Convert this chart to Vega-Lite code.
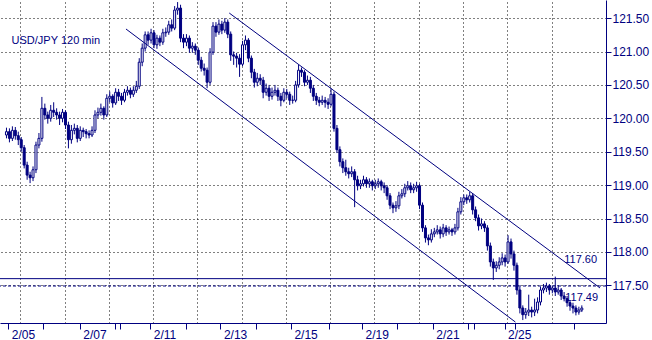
{
  "$schema": "https://vega.github.io/schema/vega-lite/v6.json",
  "width": 606,
  "height": 323,
  "autosize": {"type": "none"},
  "padding": {"left": 0, "top": 0, "right": 46, "bottom": 17},
  "background": "white",
  "config": {
    "view": {"stroke": null},
    "font": "Liberation Sans",
    "axis": {"labelFont": "Liberation Sans"}
  },
  "datasets": {
    "bars": [
      {"i":0,"o":119.75,"h":119.86,"l":119.70,"c":119.80},
      {"i":1,"o":119.80,"h":119.85,"l":119.64,"c":119.70},
      {"i":2,"o":119.70,"h":119.88,"l":119.66,"c":119.82},
      {"i":3,"o":119.82,"h":119.87,"l":119.68,"c":119.74},
      {"i":4,"o":119.74,"h":119.80,"l":119.60,"c":119.68},
      {"i":5,"o":119.68,"h":119.72,"l":119.50,"c":119.56},
      {"i":6,"o":119.56,"h":119.60,"l":119.25,"c":119.30},
      {"i":7,"o":119.30,"h":119.35,"l":119.08,"c":119.15},
      {"i":8,"o":119.15,"h":119.20,"l":119.03,"c":119.11},
      {"i":9,"o":119.11,"h":119.28,"l":119.06,"c":119.23},
      {"i":10,"o":119.23,"h":119.65,"l":119.18,"c":119.60},
      {"i":11,"o":119.60,"h":119.78,"l":119.55,"c":119.70},
      {"i":12,"o":119.70,"h":120.32,"l":119.65,"c":120.15},
      {"i":13,"o":120.15,"h":120.22,"l":119.98,"c":120.05},
      {"i":14,"o":120.05,"h":120.10,"l":119.92,"c":120.00},
      {"i":15,"o":120.00,"h":120.20,"l":119.95,"c":120.12},
      {"i":16,"o":120.12,"h":120.24,"l":120.02,"c":120.09},
      {"i":17,"o":120.09,"h":120.15,"l":119.98,"c":120.05},
      {"i":18,"o":120.05,"h":120.10,"l":119.90,"c":120.00},
      {"i":19,"o":120.00,"h":120.14,"l":119.94,"c":120.09},
      {"i":20,"o":120.09,"h":120.12,"l":119.84,"c":119.90},
      {"i":21,"o":119.90,"h":119.95,"l":119.55,"c":119.68},
      {"i":22,"o":119.68,"h":119.90,"l":119.62,"c":119.82},
      {"i":23,"o":119.82,"h":119.92,"l":119.76,"c":119.85},
      {"i":24,"o":119.85,"h":119.90,"l":119.64,"c":119.70},
      {"i":25,"o":119.70,"h":119.88,"l":119.66,"c":119.82},
      {"i":26,"o":119.82,"h":119.86,"l":119.72,"c":119.80},
      {"i":27,"o":119.80,"h":119.84,"l":119.70,"c":119.77},
      {"i":28,"o":119.77,"h":119.82,"l":119.70,"c":119.75},
      {"i":29,"o":119.75,"h":119.88,"l":119.72,"c":119.82},
      {"i":30,"o":119.82,"h":120.12,"l":119.78,"c":120.05},
      {"i":31,"o":120.05,"h":120.16,"l":120.00,"c":120.09},
      {"i":32,"o":120.09,"h":120.22,"l":120.04,"c":120.15},
      {"i":33,"o":120.15,"h":120.18,"l":119.98,"c":120.05},
      {"i":34,"o":120.05,"h":120.36,"l":120.02,"c":120.30},
      {"i":35,"o":120.30,"h":120.40,"l":120.24,"c":120.33},
      {"i":36,"o":120.33,"h":120.36,"l":120.16,"c":120.23},
      {"i":37,"o":120.23,"h":120.45,"l":120.20,"c":120.39},
      {"i":38,"o":120.39,"h":120.44,"l":120.26,"c":120.33},
      {"i":39,"o":120.33,"h":120.38,"l":120.20,"c":120.27},
      {"i":40,"o":120.27,"h":120.44,"l":120.24,"c":120.39},
      {"i":41,"o":120.39,"h":120.48,"l":120.34,"c":120.42},
      {"i":42,"o":120.42,"h":120.46,"l":120.30,"c":120.36},
      {"i":43,"o":120.36,"h":120.48,"l":120.32,"c":120.42},
      {"i":44,"o":120.42,"h":120.56,"l":120.38,"c":120.48},
      {"i":45,"o":120.48,"h":120.90,"l":120.44,"c":120.84},
      {"i":46,"o":120.84,"h":121.12,"l":120.78,"c":121.05},
      {"i":47,"o":121.05,"h":121.30,"l":121.00,"c":121.25},
      {"i":48,"o":121.25,"h":121.30,"l":121.10,"c":121.17},
      {"i":49,"o":121.17,"h":121.34,"l":121.12,"c":121.28},
      {"i":50,"o":121.28,"h":121.32,"l":121.05,"c":121.10},
      {"i":51,"o":121.10,"h":121.25,"l":121.04,"c":121.20},
      {"i":52,"o":121.20,"h":121.24,"l":121.08,"c":121.14},
      {"i":53,"o":121.14,"h":121.34,"l":121.10,"c":121.28},
      {"i":54,"o":121.28,"h":121.36,"l":121.22,"c":121.29},
      {"i":55,"o":121.29,"h":121.46,"l":121.25,"c":121.40},
      {"i":56,"o":121.40,"h":121.48,"l":121.30,"c":121.35},
      {"i":57,"o":121.35,"h":121.68,"l":121.32,"c":121.62},
      {"i":58,"o":121.62,"h":121.74,"l":121.55,"c":121.65},
      {"i":59,"o":121.65,"h":121.70,"l":121.14,"c":121.20},
      {"i":60,"o":121.20,"h":121.26,"l":121.05,"c":121.14},
      {"i":61,"o":121.14,"h":121.26,"l":121.08,"c":121.20},
      {"i":62,"o":121.20,"h":121.24,"l":120.98,"c":121.05},
      {"i":63,"o":121.05,"h":121.14,"l":120.98,"c":121.08},
      {"i":64,"o":121.08,"h":121.12,"l":120.95,"c":121.02},
      {"i":65,"o":121.02,"h":121.06,"l":120.80,"c":120.87},
      {"i":66,"o":120.87,"h":120.92,"l":120.70,"c":120.75},
      {"i":67,"o":120.75,"h":120.82,"l":120.64,"c":120.72},
      {"i":68,"o":120.72,"h":120.76,"l":120.45,"c":120.54},
      {"i":69,"o":120.54,"h":121.05,"l":120.50,"c":120.99},
      {"i":70,"o":120.99,"h":121.44,"l":120.95,"c":121.38},
      {"i":71,"o":121.38,"h":121.44,"l":121.22,"c":121.29},
      {"i":72,"o":121.29,"h":121.48,"l":121.25,"c":121.41},
      {"i":73,"o":121.41,"h":121.46,"l":121.26,"c":121.32},
      {"i":74,"o":121.32,"h":121.50,"l":121.28,"c":121.44},
      {"i":75,"o":121.44,"h":121.48,"l":121.20,"c":121.26},
      {"i":76,"o":121.26,"h":121.30,"l":120.86,"c":120.95},
      {"i":77,"o":120.95,"h":121.00,"l":120.80,"c":120.93},
      {"i":78,"o":120.93,"h":120.98,"l":120.76,"c":120.90},
      {"i":79,"o":120.90,"h":120.96,"l":120.62,"c":120.81},
      {"i":80,"o":120.81,"h":121.16,"l":120.78,"c":121.10},
      {"i":81,"o":121.10,"h":121.24,"l":121.02,"c":121.17},
      {"i":82,"o":121.17,"h":121.20,"l":120.84,"c":120.90},
      {"i":83,"o":120.90,"h":120.94,"l":120.60,"c":120.69},
      {"i":84,"o":120.69,"h":120.74,"l":120.46,"c":120.54},
      {"i":85,"o":120.54,"h":120.68,"l":120.48,"c":120.60},
      {"i":86,"o":120.60,"h":120.66,"l":120.50,"c":120.57},
      {"i":87,"o":120.57,"h":120.62,"l":120.30,"c":120.39},
      {"i":88,"o":120.39,"h":120.52,"l":120.34,"c":120.45},
      {"i":89,"o":120.45,"h":120.50,"l":120.26,"c":120.33},
      {"i":90,"o":120.33,"h":120.46,"l":120.28,"c":120.39},
      {"i":91,"o":120.39,"h":120.50,"l":120.34,"c":120.42},
      {"i":92,"o":120.42,"h":120.46,"l":120.26,"c":120.33},
      {"i":93,"o":120.33,"h":120.38,"l":120.18,"c":120.27},
      {"i":94,"o":120.27,"h":120.45,"l":120.24,"c":120.39},
      {"i":95,"o":120.39,"h":120.44,"l":120.30,"c":120.36},
      {"i":96,"o":120.36,"h":120.40,"l":120.20,"c":120.27},
      {"i":97,"o":120.27,"h":120.34,"l":120.22,"c":120.27},
      {"i":98,"o":120.27,"h":120.56,"l":120.24,"c":120.50},
      {"i":99,"o":120.50,"h":120.80,"l":120.46,"c":120.72},
      {"i":100,"o":120.72,"h":120.76,"l":120.62,"c":120.69},
      {"i":101,"o":120.69,"h":120.72,"l":120.48,"c":120.54},
      {"i":102,"o":120.54,"h":120.64,"l":120.50,"c":120.57},
      {"i":103,"o":120.57,"h":120.62,"l":120.38,"c":120.45},
      {"i":104,"o":120.45,"h":120.50,"l":120.26,"c":120.33},
      {"i":105,"o":120.33,"h":120.38,"l":120.20,"c":120.27},
      {"i":106,"o":120.27,"h":120.32,"l":120.18,"c":120.24},
      {"i":107,"o":120.24,"h":120.34,"l":120.20,"c":120.27},
      {"i":108,"o":120.27,"h":120.32,"l":120.16,"c":120.24},
      {"i":109,"o":120.24,"h":120.30,"l":120.14,"c":120.21},
      {"i":110,"o":120.21,"h":120.45,"l":120.18,"c":120.36},
      {"i":111,"o":120.36,"h":120.40,"l":119.80,"c":119.85},
      {"i":112,"o":119.85,"h":119.90,"l":119.48,"c":119.53},
      {"i":113,"o":119.53,"h":119.58,"l":119.28,"c":119.35},
      {"i":114,"o":119.35,"h":119.40,"l":119.18,"c":119.26},
      {"i":115,"o":119.26,"h":119.38,"l":119.14,"c":119.20},
      {"i":116,"o":119.20,"h":119.26,"l":119.10,"c":119.17},
      {"i":117,"o":119.17,"h":119.28,"l":119.12,"c":119.20},
      {"i":118,"o":119.20,"h":119.24,"l":118.67,"c":119.08},
      {"i":119,"o":119.08,"h":119.14,"l":118.92,"c":118.99},
      {"i":120,"o":118.99,"h":119.08,"l":118.94,"c":119.02},
      {"i":121,"o":119.02,"h":119.14,"l":118.98,"c":119.08},
      {"i":122,"o":119.08,"h":119.12,"l":118.96,"c":119.02},
      {"i":123,"o":119.02,"h":119.10,"l":118.96,"c":119.05},
      {"i":124,"o":119.05,"h":119.08,"l":118.92,"c":118.99},
      {"i":125,"o":118.99,"h":119.08,"l":118.94,"c":119.02},
      {"i":126,"o":119.02,"h":119.10,"l":118.96,"c":119.05},
      {"i":127,"o":119.05,"h":119.08,"l":118.92,"c":118.99},
      {"i":128,"o":118.99,"h":119.04,"l":118.88,"c":118.96},
      {"i":129,"o":118.96,"h":119.00,"l":118.78,"c":118.84},
      {"i":130,"o":118.84,"h":118.88,"l":118.64,"c":118.70},
      {"i":131,"o":118.70,"h":118.74,"l":118.58,"c":118.66},
      {"i":132,"o":118.66,"h":118.76,"l":118.60,"c":118.69},
      {"i":133,"o":118.69,"h":118.90,"l":118.64,"c":118.84},
      {"i":134,"o":118.84,"h":118.94,"l":118.80,"c":118.87},
      {"i":135,"o":118.87,"h":119.02,"l":118.82,"c":118.96},
      {"i":136,"o":118.96,"h":119.06,"l":118.92,"c":118.99},
      {"i":137,"o":118.99,"h":119.04,"l":118.88,"c":118.93},
      {"i":138,"o":118.93,"h":119.02,"l":118.88,"c":118.96},
      {"i":139,"o":118.96,"h":119.05,"l":118.90,"c":118.99},
      {"i":140,"o":118.99,"h":119.02,"l":118.64,"c":118.70},
      {"i":141,"o":118.70,"h":118.74,"l":118.30,"c":118.36},
      {"i":142,"o":118.36,"h":118.40,"l":118.14,"c":118.21},
      {"i":143,"o":118.21,"h":118.26,"l":118.10,"c":118.18},
      {"i":144,"o":118.18,"h":118.34,"l":118.14,"c":118.27},
      {"i":145,"o":118.27,"h":118.36,"l":118.22,"c":118.30},
      {"i":146,"o":118.30,"h":118.40,"l":118.26,"c":118.33},
      {"i":147,"o":118.33,"h":118.38,"l":118.20,"c":118.27},
      {"i":148,"o":118.27,"h":118.42,"l":118.22,"c":118.36},
      {"i":149,"o":118.36,"h":118.40,"l":118.24,"c":118.30},
      {"i":150,"o":118.30,"h":118.38,"l":118.26,"c":118.33},
      {"i":151,"o":118.33,"h":118.36,"l":118.24,"c":118.30},
      {"i":152,"o":118.30,"h":118.42,"l":118.26,"c":118.36},
      {"i":153,"o":118.36,"h":118.66,"l":118.32,"c":118.60},
      {"i":154,"o":118.60,"h":118.82,"l":118.56,"c":118.75},
      {"i":155,"o":118.75,"h":118.86,"l":118.70,"c":118.81},
      {"i":156,"o":118.81,"h":118.86,"l":118.72,"c":118.78},
      {"i":157,"o":118.78,"h":118.90,"l":118.74,"c":118.84},
      {"i":158,"o":118.84,"h":118.88,"l":118.56,"c":118.63},
      {"i":159,"o":118.63,"h":118.68,"l":118.46,"c":118.51},
      {"i":160,"o":118.51,"h":118.56,"l":118.32,"c":118.39},
      {"i":161,"o":118.39,"h":118.50,"l":118.34,"c":118.42},
      {"i":162,"o":118.42,"h":118.46,"l":118.30,"c":118.36},
      {"i":163,"o":118.36,"h":118.40,"l":118.02,"c":118.09},
      {"i":164,"o":118.09,"h":118.14,"l":117.78,"c":117.85},
      {"i":165,"o":117.85,"h":117.90,"l":117.58,"c":117.76},
      {"i":166,"o":117.76,"h":117.86,"l":117.70,"c":117.80},
      {"i":167,"o":117.80,"h":117.92,"l":117.74,"c":117.85},
      {"i":168,"o":117.85,"h":117.98,"l":117.80,"c":117.91},
      {"i":169,"o":117.91,"h":117.96,"l":117.78,"c":117.85},
      {"i":170,"o":117.85,"h":118.25,"l":117.82,"c":118.15},
      {"i":171,"o":118.15,"h":118.20,"l":117.90,"c":117.97},
      {"i":172,"o":117.97,"h":118.02,"l":117.72,"c":117.80},
      {"i":173,"o":117.80,"h":117.84,"l":117.36,"c":117.43},
      {"i":174,"o":117.43,"h":117.48,"l":117.08,"c":117.16},
      {"i":175,"o":117.16,"h":117.20,"l":116.98,"c":117.06},
      {"i":176,"o":117.06,"h":117.16,"l":117.00,"c":117.10},
      {"i":177,"o":117.10,"h":117.36,"l":117.04,"c":117.13},
      {"i":178,"o":117.13,"h":117.18,"l":117.02,"c":117.10},
      {"i":179,"o":117.10,"h":117.30,"l":117.04,"c":117.13},
      {"i":180,"o":117.13,"h":117.32,"l":117.08,"c":117.25},
      {"i":181,"o":117.25,"h":117.48,"l":117.20,"c":117.43},
      {"i":182,"o":117.43,"h":117.52,"l":117.38,"c":117.46},
      {"i":183,"o":117.46,"h":117.54,"l":117.40,"c":117.49},
      {"i":184,"o":117.49,"h":117.52,"l":117.36,"c":117.43},
      {"i":185,"o":117.43,"h":117.50,"l":117.38,"c":117.46},
      {"i":186,"o":117.46,"h":117.63,"l":117.34,"c":117.40},
      {"i":187,"o":117.40,"h":117.50,"l":117.36,"c":117.43},
      {"i":188,"o":117.43,"h":117.46,"l":117.28,"c":117.34},
      {"i":189,"o":117.34,"h":117.40,"l":117.26,"c":117.30},
      {"i":190,"o":117.30,"h":117.34,"l":117.18,"c":117.24},
      {"i":191,"o":117.24,"h":117.28,"l":117.12,"c":117.19},
      {"i":192,"o":117.19,"h":117.24,"l":117.08,"c":117.16},
      {"i":193,"o":117.16,"h":117.20,"l":117.05,"c":117.10},
      {"i":194,"o":117.10,"h":117.18,"l":117.06,"c":117.13},
      {"i":195,"o":117.13,"h":117.20,"l":117.10,"c":117.16}
    ],
    "channel": [
      {"line": "upper", "i": 75.5, "p": 121.576},
      {"line": "upper", "i": 201.17, "p": 117.46},
      {"line": "lower", "i": 40.5, "p": 121.337},
      {"line": "lower", "i": 172.5, "p": 116.95}
    ],
    "one": [{}]
  },
  "resolve": {"axis": {"x": "independent", "y": "independent"}},
  "layer": [
    {
      "data": {"name": "bars"},
      "mark": {"type": "rule", "color": "#000080", "strokeWidth": 1},
      "encoding": {
        "x": {
          "field": "i", "type": "quantitative",
          "scale": {"domain": [-0.5, 201.5], "nice": false, "zero": false},
          "axis": {
            "orient": "top", "title": null, "labels": false, "ticks": false, "domain": false,
            "grid": true, "gridColor": "#000000", "gridDash": [1, 3], "gridOpacity": 1, "gridWidth": 1,
            "values": [4.73, 19.73, 34.73, 49.73, 64.73, 79.73, 94.73, 109.73, 124.73, 139.73, 154.73, 169.73, 184.73]
          }
        },
        "y": {
          "field": "l", "type": "quantitative",
          "scale": {"domain": [116.936, 121.771], "nice": false, "zero": false},
          "axis": {
            "orient": "right", "title": null,
            "values": [117.5, 118, 118.5, 119, 119.5, 120, 120.5, 121, 121.5],
            "format": ".2f",
            "grid": true, "gridColor": "#000000", "gridDash": [1, 3], "gridOpacity": 1, "gridWidth": 1,
            "domainColor": "#000080", "domainWidth": 1,
            "tickColor": "#000080", "tickSize": 5, "tickWidth": 1,
            "labelColor": "#000080", "labelFontSize": 12, "labelPadding": 1,
            "labelOverlap": false, "labelFlush": false, "labelBound": false
          }
        },
        "y2": {"field": "h"}
      }
    },
    {
      "data": {"name": "bars"},
      "mark": {"type": "bar", "size": 2, "stroke": "#000080", "strokeWidth": 1},
      "encoding": {
        "x": {
          "field": "i", "type": "quantitative",
          "scale": {"domain": [-0.5, 201.5], "nice": false, "zero": false},
          "axis": {
            "orient": "bottom", "title": null, "grid": false,
            "values": [0.6, 12.5, 24.83, 36.73, 38.5, 48.73, 60.83, 72.5, 84.5, 96.4, 109.17, 120.5, 132.5, 144.5, 156.4, 158.4, 168.83, 172.5, 192.5],
            "labelExpr": "datum.value == 0.6 ? '2/05' : datum.value == 24.83 ? '2/07' : datum.value == 48.73 ? '2/11' : datum.value == 72.5 ? '2/13' : datum.value == 96.4 ? '2/15' : datum.value == 120.5 ? '2/19' : datum.value == 144.5 ? '2/21' : datum.value == 168.83 ? '2/25' : ''",
            "domainColor": "#000080", "domainWidth": 1,
            "tickColor": "#000080", "tickSize": 6, "tickWidth": 1,
            "labelColor": "#000080", "labelFontSize": 12, "labelAlign": "left", "labelOffset": 3,
            "labelPadding": 0, "labelOverlap": false, "labelFlush": false, "labelBound": false
          }
        },
        "y": {
          "field": "o", "type": "quantitative",
          "scale": {"domain": [116.936, 121.771], "nice": false, "zero": false},
          "axis": null
        },
        "y2": {"field": "c"},
        "fill": {"condition": {"test": "datum.c > datum.o", "value": "#ffffff"}, "value": "#000080"}
      }
    },
    {
      "data": {"name": "channel"},
      "mark": {"type": "line", "color": "#000080", "strokeWidth": 1},
      "encoding": {
        "x": {"field": "i", "type": "quantitative", "scale": {"domain": [-0.5, 201.5], "nice": false, "zero": false}, "axis": null},
        "y": {"field": "p", "type": "quantitative", "scale": {"domain": [116.936, 121.771], "nice": false, "zero": false}, "axis": null},
        "detail": {"field": "line"}
      }
    },
    {
      "data": {"name": "one"},
      "mark": {"type": "rule", "color": "#000080", "strokeWidth": 1},
      "encoding": {
        "y": {"datum": 117.6, "type": "quantitative", "scale": {"domain": [116.936, 121.771], "nice": false, "zero": false}, "axis": null}
      }
    },
    {
      "data": {"name": "one"},
      "mark": {"type": "rule", "color": "#000080", "strokeWidth": 1, "strokeDash": [3, 2]},
      "encoding": {
        "y": {"datum": 117.49, "type": "quantitative", "scale": {"domain": [116.936, 121.771], "nice": false, "zero": false}, "axis": null}
      }
    },
    {
      "data": {"name": "one"},
      "mark": {"type": "text", "text": "117.60", "color": "#000080", "font": "Liberation Sans", "fontSize": 11, "align": "right", "baseline": "alphabetic", "dy": -16},
      "encoding": {
        "x": {"datum": 200.17, "type": "quantitative", "scale": {"domain": [-0.5, 201.5], "nice": false, "zero": false}, "axis": null},
        "y": {"datum": 117.6, "type": "quantitative", "scale": {"domain": [116.936, 121.771], "nice": false, "zero": false}, "axis": null}
      }
    },
    {
      "data": {"name": "one"},
      "mark": {"type": "text", "text": "117.49", "color": "#000080", "font": "Liberation Sans", "fontSize": 11, "align": "right", "baseline": "alphabetic", "dy": 15},
      "encoding": {
        "x": {"datum": 200.5, "type": "quantitative", "scale": {"domain": [-0.5, 201.5], "nice": false, "zero": false}, "axis": null},
        "y": {"datum": 117.49, "type": "quantitative", "scale": {"domain": [116.936, 121.771], "nice": false, "zero": false}, "axis": null}
      }
    },
    {
      "data": {"name": "one"},
      "mark": {"type": "text", "text": "USD/JPY 120 min", "color": "#000080", "font": "Liberation Sans", "fontSize": 11, "align": "left", "baseline": "alphabetic"},
      "encoding": {
        "x": {"datum": 1.73, "type": "quantitative", "scale": {"domain": [-0.5, 201.5], "nice": false, "zero": false}, "axis": null},
        "y": {"datum": 121.108, "type": "quantitative", "scale": {"domain": [116.936, 121.771], "nice": false, "zero": false}, "axis": null}
      }
    }
  ]
}
